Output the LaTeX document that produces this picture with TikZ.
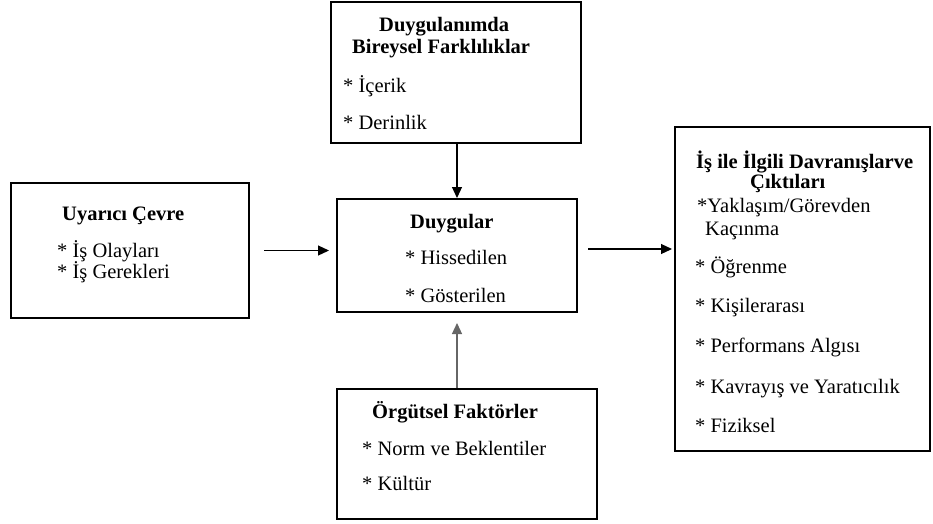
\documentclass[tikz,border=0pt]{standalone}
\usepackage{fontspec}
\setmainfont{Liberation Serif}
\usepackage{tikz}
\usetikzlibrary{positioning,arrows.meta}
\tikzstyle{bx}=[%
      rectangle, draw=black, line width=2pt, fill=none, inner sep=0pt
]
\tikzstyle{tx}=[%
      anchor=base west, inner sep=0pt, font=\fontsize{20.5}{22}\selectfont
]
\tikzstyle{hd}=[%
      tx, font=\fontsize{20.5}{22}\selectfont\bfseries
]
\tikzstyle{ok}=[%
      line width=1.2pt, -{Triangle[length=11pt,width=10pt]}
]

\begin{document}
\begin{tikzpicture}[x=1pt, y=-1pt]
    \useasboundingbox (0,0) rectangle (933,523);

    % kutular
    \node[bx, minimum width=250, minimum height=141] (bfark) at (456,72.5)  {};
    \node[bx, minimum width=240, minimum height=113] (duyg)  at (457,255.5) {};
    \node[bx, minimum width=260, minimum height=130] (orgut) at (467,454)   {};
    \node[bx, minimum width=238, minimum height=135] (uyar)  at (130,250.5) {};
    \node[bx, minimum width=255, minimum height=324] (davr)  at (802.5,289) {};

    % metinler
    \node[hd] (bfarkA) at (379,31)  {Duygulanımda};
    \node[hd] (bfarkB) at (352,53)  {Bireysel Farklılıklar};
    \node[tx] (bfark1) at (343,92)  {* İçerik};
    \node[tx] (bfark2) at (343,129) {* Derinlik};

    \node[hd] (duygA) at (410,228) {Duygular};
    \node[tx] (duyg1) at (405,264) {* Hissedilen};
    \node[tx] (duyg2) at (405,302) {* Gösterilen};

    \node[hd] (orgutA) at (372,418) {Örgütsel Faktörler};
    \node[tx] (orgut1) at (362,455) {* Norm ve Beklentiler};
    \node[tx] (orgut2) at (362,490) {* Kültür};

    \node[hd] (uyarA) at (62,220) {Uyarıcı Çevre};
    \node[tx] (uyar1) at (57,257) {* İş Olayları};
    \node[tx] (uyar2) at (57,278) {* İş Gerekleri};

    \node[hd] (davrA) at (696,168) {İş ile İlgili Davranışlarve};
    \node[hd] (davrB) at (750,188) {Çıktıları};
    \node[tx] (davr1) at (697,212) {*Yaklaşım/Görevden};
    \node[tx] (davr2) at (705,235) {Kaçınma};
    \node[tx] (davr3) at (695,273) {* Öğrenme};
    \node[tx] (davr4) at (695,312) {* Kişilerarası};
    \node[tx] (davr5) at (695,352) {* Performans Algısı};
    \node[tx] (davr6) at (695,393) {* Kavrayış ve Yaratıcılık};
    \node[tx] (davr7) at (695,432) {* Fiziksel};

    % oklar
    \draw[ok] (bfark.south -| duyg.north) -- (duyg.north);
    \draw[ok, draw=black!60, shorten >=10pt] (orgut.north -| duyg.south) -- (duyg.south);
    \draw[ok, shorten <=14pt, shorten >=7pt] (uyar.east) -- (uyar.east -| duyg.west);
    \draw[ok, shorten <=10pt, shorten >=2pt] ([yshift=6.5pt]duyg.east) -- ([yshift=6.5pt]duyg.east -| davr.west);
\end{tikzpicture}
\end{document}
